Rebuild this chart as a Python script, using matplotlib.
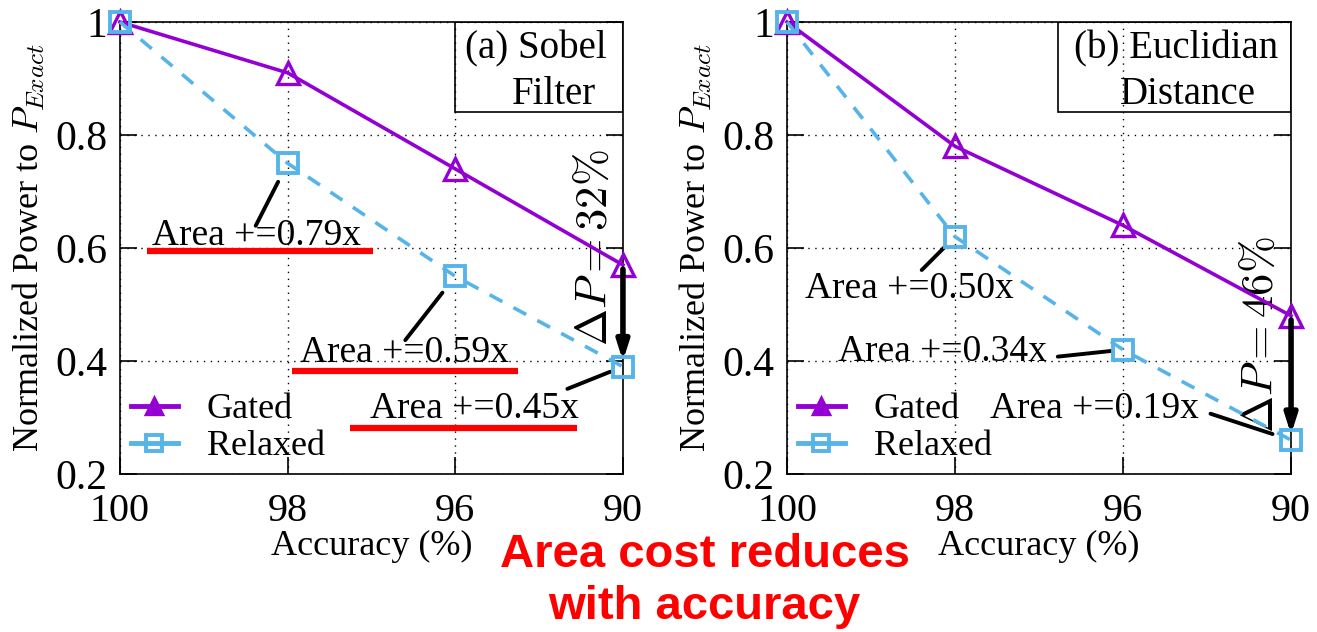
import numpy as np
import matplotlib
matplotlib.use("Agg")
import matplotlib.pyplot as plt
from matplotlib.patches import Rectangle

plt.rcParams['font.family'] = ['Liberation Serif', 'DejaVu Serif']
plt.rcParams['mathtext.fontset'] = 'cm'

acc_labels = ['100', '98', '96', '90']
ytick_vals = [0.2, 0.4, 0.6, 0.8, 1.0]
ytick_labels = ['0.2', '0.4', '0.6', '0.8', '1']

# (a) Sobel filter
sobel_gated = [1.0, 0.91, 0.74, 0.57]
sobel_relaxed = [1.0, 0.75, 0.55, 0.39]
sobel_area = ['Area +=0.79x', 'Area +=0.59x', 'Area +=0.45x']
sobel_dp = r'$\Delta P = 32\%$'

# (b) Euclidian distance
eucl_gated = [1.0, 0.78, 0.64, 0.48]
eucl_relaxed = [1.0, 0.62, 0.42, 0.26]
eucl_area = ['Area +=0.50x', 'Area +=0.34x', 'Area +=0.19x']
eucl_dp = r'$\Delta P = 46\%$'

purple = '#9400D3'
blue = '#56B4E9'

fig = plt.figure(figsize=(13.17, 6.32), dpi=100)
axL = fig.add_axes([0.0911, 0.25, 0.3819, 0.7152])
axR = fig.add_axes([0.5976, 0.25, 0.3827, 0.7152])

x = np.arange(len(acc_labels))


def base(ax, gated, relaxed):
    ax.plot(x, gated, '-', color=purple, lw=2.6, marker='^', ms=16,
            mfc='none', mec=purple, mew=2.4, label='Gated', clip_on=False, zorder=4)
    ax.plot(x, relaxed, '--', color=blue, lw=2.6, dashes=(4, 3.5), marker='s', ms=15,
            mfc='none', mec=blue, mew=2.8, label='Relaxed', clip_on=False, zorder=4)
    ax.set_xlim(0, 3)
    ax.set_ylim(0.2, 1.0)
    ax.set_xticks(x)
    ax.set_xticklabels(acc_labels)
    ax.set_yticks(ytick_vals)
    ax.set_yticklabels(ytick_labels)
    ax.tick_params(axis='both', direction='in', labelsize=30, length=12, width=1.2,
                   right=True, top=False, pad=9)
    ax.tick_params(axis='x', pad=14, labelsize=29)
    ax.grid(True, color='black', linestyle=(0, (1, 4)), linewidth=1)
    for s in ax.spines.values():
        s.set_linewidth(1.2)
    ax.set_xlabel('Accuracy (%)', fontsize=26, labelpad=0)
    ax.set_ylabel(r'Normalized Power to $P_{Exact}$', fontsize=26, labelpad=6)
    leg = ax.legend(loc='lower left', frameon=False, fontsize=26, handlelength=1.3,
                    handletextpad=0.8, borderaxespad=0.0, labelspacing=0.1,
                    borderpad=0.3, markerscale=0.75)
    leg.legend_handles[0].set_markerfacecolor(purple)
    leg.legend_handles[0].set_linewidth(3.5)
    leg.legend_handles[1].set_linewidth(3.5)
    leg.legend_handles[1].set_linestyle('-')
    # arrow for delta P
    ax.annotate('', xy=(3, relaxed[3]), xytext=(3, gated[3]),
                arrowprops=dict(arrowstyle='-|>,head_length=1.1,head_width=0.35',
                                color='black', lw=4, shrinkA=3, shrinkB=4), zorder=5)


def leader(ax, xi, yi, off, shrink):
    ax.annotate('', xy=(xi, yi), xytext=off, textcoords='offset points',
                arrowprops=dict(arrowstyle='-', color='black', lw=2.8,
                                shrinkA=0, shrinkB=shrink))


base(axL, sobel_gated, sobel_relaxed)
base(axR, eucl_gated, eucl_relaxed)

# (a) annotations
axL.add_patch(Rectangle((2.0, 0.84), 1.0, 0.16, fill=False, ec='black', lw=1.2, zorder=3))
axL.text(2.905, 0.936, '(a) Sobel', fontsize=28, ha='right', va='baseline')
axL.text(2.588, 0.855, 'Filter', fontsize=28, ha='center', va='baseline')
axL.text(2.835, 0.60, sobel_dp, fontsize=32, rotation=90, ha='center', va='center')

axL.text(0.19, 0.605, sobel_area[0], fontsize=27, va='baseline')
axL.text(1.074, 0.398, sobel_area[1], fontsize=27, va='baseline')
axL.text(1.491, 0.299, sobel_area[2], fontsize=27, va='baseline')
axL.plot([0.161, 1.509], [0.595, 0.595], color='red', lw=4.5, solid_capstyle='butt', zorder=3)
axL.plot([1.026, 2.374], [0.382, 0.382], color='red', lw=4.5, solid_capstyle='butt', zorder=3)
axL.plot([1.372, 2.726], [0.281, 0.281], color='red', lw=4.5, solid_capstyle='butt', zorder=3)
leader(axL, 1, sobel_relaxed[1], (-23, -45), 15)
leader(axL, 2, sobel_relaxed[2], (-36, -46), 15)
leader(axL, 3, sobel_relaxed[3], (-40, -16), 10)

# (b) annotations
axR.add_patch(Rectangle((1.613, 0.84), 1.387, 0.16, fill=False, ec='black', lw=1.2, zorder=3))
axR.text(2.315, 0.936, '(b) Euclidian', fontsize=28, ha='center', va='baseline')
axR.text(2.387, 0.855, 'Distance', fontsize=28, ha='center', va='baseline')
axR.text(2.825, 0.446, eucl_dp, fontsize=32, rotation=90, ha='center', va='center')

axR.text(0.107, 0.511, eucl_area[0], fontsize=27, va='baseline')
axR.text(0.304, 0.40, eucl_area[1], fontsize=27, va='baseline')
axR.text(1.208, 0.299, eucl_area[2], fontsize=27, va='baseline')
leader(axR, 1, eucl_relaxed[1], (-24, -24), 10)
leader(axR, 2, eucl_relaxed[2], (-47, -5), 9)
leader(axR, 3, eucl_relaxed[3], (-58, 19), 14)

fig.text(0.535, 0.122, 'Area cost reduces', color='red', fontsize=34, fontweight='bold',
         family=['Liberation Sans', 'DejaVu Sans'], ha='center', va='center')
fig.text(0.535, 0.040, 'with accuracy', color='red', fontsize=34, fontweight='bold',
         family=['Liberation Sans', 'DejaVu Sans'], ha='center', va='center')

fig.savefig('out.png', dpi=100)
